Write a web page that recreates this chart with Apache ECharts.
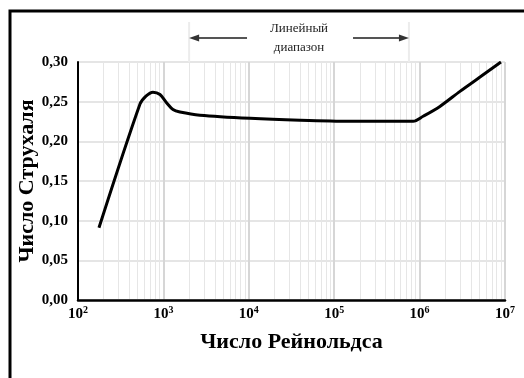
<!DOCTYPE html>
<html>
<head>
<meta charset="utf-8">
<script src="https://cdn.jsdelivr.net/npm/echarts@6/dist/echarts.min.js"></script>
<style>
  html, body { margin: 0; padding: 0; background: #fff; }
  #chart { width: 524px; height: 378px; }
</style>
</head>
<body>
<div id="chart"></div>
<script>
// Reynolds number vs Strouhal number
const reynolds = [176, 532, 625, 755, 912, 1100, 1294, 1563, 2680, 10330, 39800, 153000, 840000, 1100000, 1730000, 2970000, 5100000, 8970000];
const strouhal = [0.091, 0.247, 0.257, 0.262, 0.259, 0.248, 0.240, 0.237, 0.233, 0.229, 0.2266, 0.2253, 0.2253, 0.2316, 0.244, 0.263, 0.281, 0.300];
// minor vertical grid lines 2..9 x 10^k
const minorGrid = [];
[100, 1000, 10000, 100000, 1000000].forEach(function (d) {
    for (let m = 2; m <= 9; m++) minorGrid.push(m * d);
});
const linearRange = [2000, 750000];
const rangeText = 'Линейный\nдиапазон';

const serif = '"Liberation Serif", "DejaVu Serif", serif';
var myChart = echarts.init(document.getElementById('chart'));

option = {
    backgroundColor: '#fff',
    animation: false,
    grid: { left: 78, top: 62, right: 19, bottom: 78 },
    xAxis: {
        type: 'log',
        logBase: 10,
        min: 100,
        max: 10000000,
        name: 'Число Рейнольдса',
        nameLocation: 'middle',
        nameGap: 31,
        nameTextStyle: { fontFamily: serif, fontSize: 22, fontWeight: 'bold', color: '#000' },
        axisLine: { lineStyle: { color: '#000', width: 2.5 } },
        axisTick: { show: false },
        splitLine: { show: true, lineStyle: { color: '#d6d6d6', width: 2 } },
        axisLabel: {
            margin: 5,
            formatter: function (v) {
                let e = Math.round(Math.log10(v));
                return '{b|10}{e|' + e + '}';
            },
            rich: {
                b: { fontFamily: serif, fontSize: 15, fontWeight: 'bold', color: '#000', lineHeight: 19 },
                e: { fontFamily: serif, fontSize: 10, fontWeight: 'bold', color: '#000', verticalAlign: 'top', lineHeight: 10 }
            }
        }
    },
    yAxis: {
        type: 'value',
        min: 0,
        max: 0.3,
        interval: 0.05,
        name: 'Число Струхаля',
        nameLocation: 'middle',
        nameGap: 40,
        nameMoveOverlap: false,
        nameRotate: 90,
        nameTextStyle: { fontFamily: serif, fontSize: 22, fontWeight: 'bold', color: '#000' },
        axisLine: { show: true, lineStyle: { color: '#000', width: 2 } },
        axisTick: { show: false },
        splitLine: { lineStyle: { color: '#dcdcdc', width: 1.5 } },
        axisLabel: {
            margin: 10,
            fontFamily: serif,
            fontSize: 15,
            fontWeight: 'bold',
            color: '#000',
            formatter: function (v) { return v.toFixed(2).replace('.', ','); }
        }
    },
    series: [
        {
            type: 'line',
            data: reynolds.map(function (r, i) { return [r, strouhal[i]]; }),
            showSymbol: false,
            smooth: 0.3,
            lineStyle: { color: '#000', width: 3 },
            markLine: {
                silent: true,
                symbol: 'none',
                label: { show: false },
                lineStyle: { color: '#e6e6e6', width: 1, type: 'solid' },
                data: minorGrid.map(function (v) { return { xAxis: v }; }),
                z: 0
            },
            z: 5
        }
    ]
};
myChart.setOption(option);

// bracket for the linear range, placed from data values
let xa = myChart.convertToPixel({ xAxisIndex: 0 }, linearRange[0]);
let xb = myChart.convertToPixel({ xAxisIndex: 0 }, linearRange[1]);
let xc = (xa + xb) / 2;
let ay = 38;
myChart.setOption({
    graphic: [
        { type: 'rect', shape: { x: 10, y: 11, width: 600, height: 500 }, style: { fill: 'none', stroke: '#000', lineWidth: 3 } },
        { type: 'line', shape: { x1: xa, y1: 22, x2: xa, y2: 62 }, style: { stroke: '#ececec', lineWidth: 2 } },
        { type: 'line', shape: { x1: xb, y1: 22, x2: xb, y2: 62 }, style: { stroke: '#ececec', lineWidth: 2 } },
        { type: 'line', shape: { x1: xa + 6, y1: ay, x2: xc - 52, y2: ay }, style: { stroke: '#555', lineWidth: 2 } },
        { type: 'polygon', shape: { points: [[xa, ay], [xa + 10, ay - 3.5], [xa + 10, ay + 3.5]] }, style: { fill: '#333' } },
        { type: 'line', shape: { x1: xc + 54, y1: ay, x2: xb - 6, y2: ay }, style: { stroke: '#555', lineWidth: 2 } },
        { type: 'polygon', shape: { points: [[xb, ay], [xb - 10, ay - 3.5], [xb - 10, ay + 3.5]] }, style: { fill: '#333' } },
        {
            type: 'text', x: xc, y: ay,
            style: {
                text: rangeText, fontFamily: serif, fontSize: 13, fill: '#222',
                align: 'center', verticalAlign: 'middle', lineHeight: 19
            }
        }
    ]
});
</script>
</body>
</html>
